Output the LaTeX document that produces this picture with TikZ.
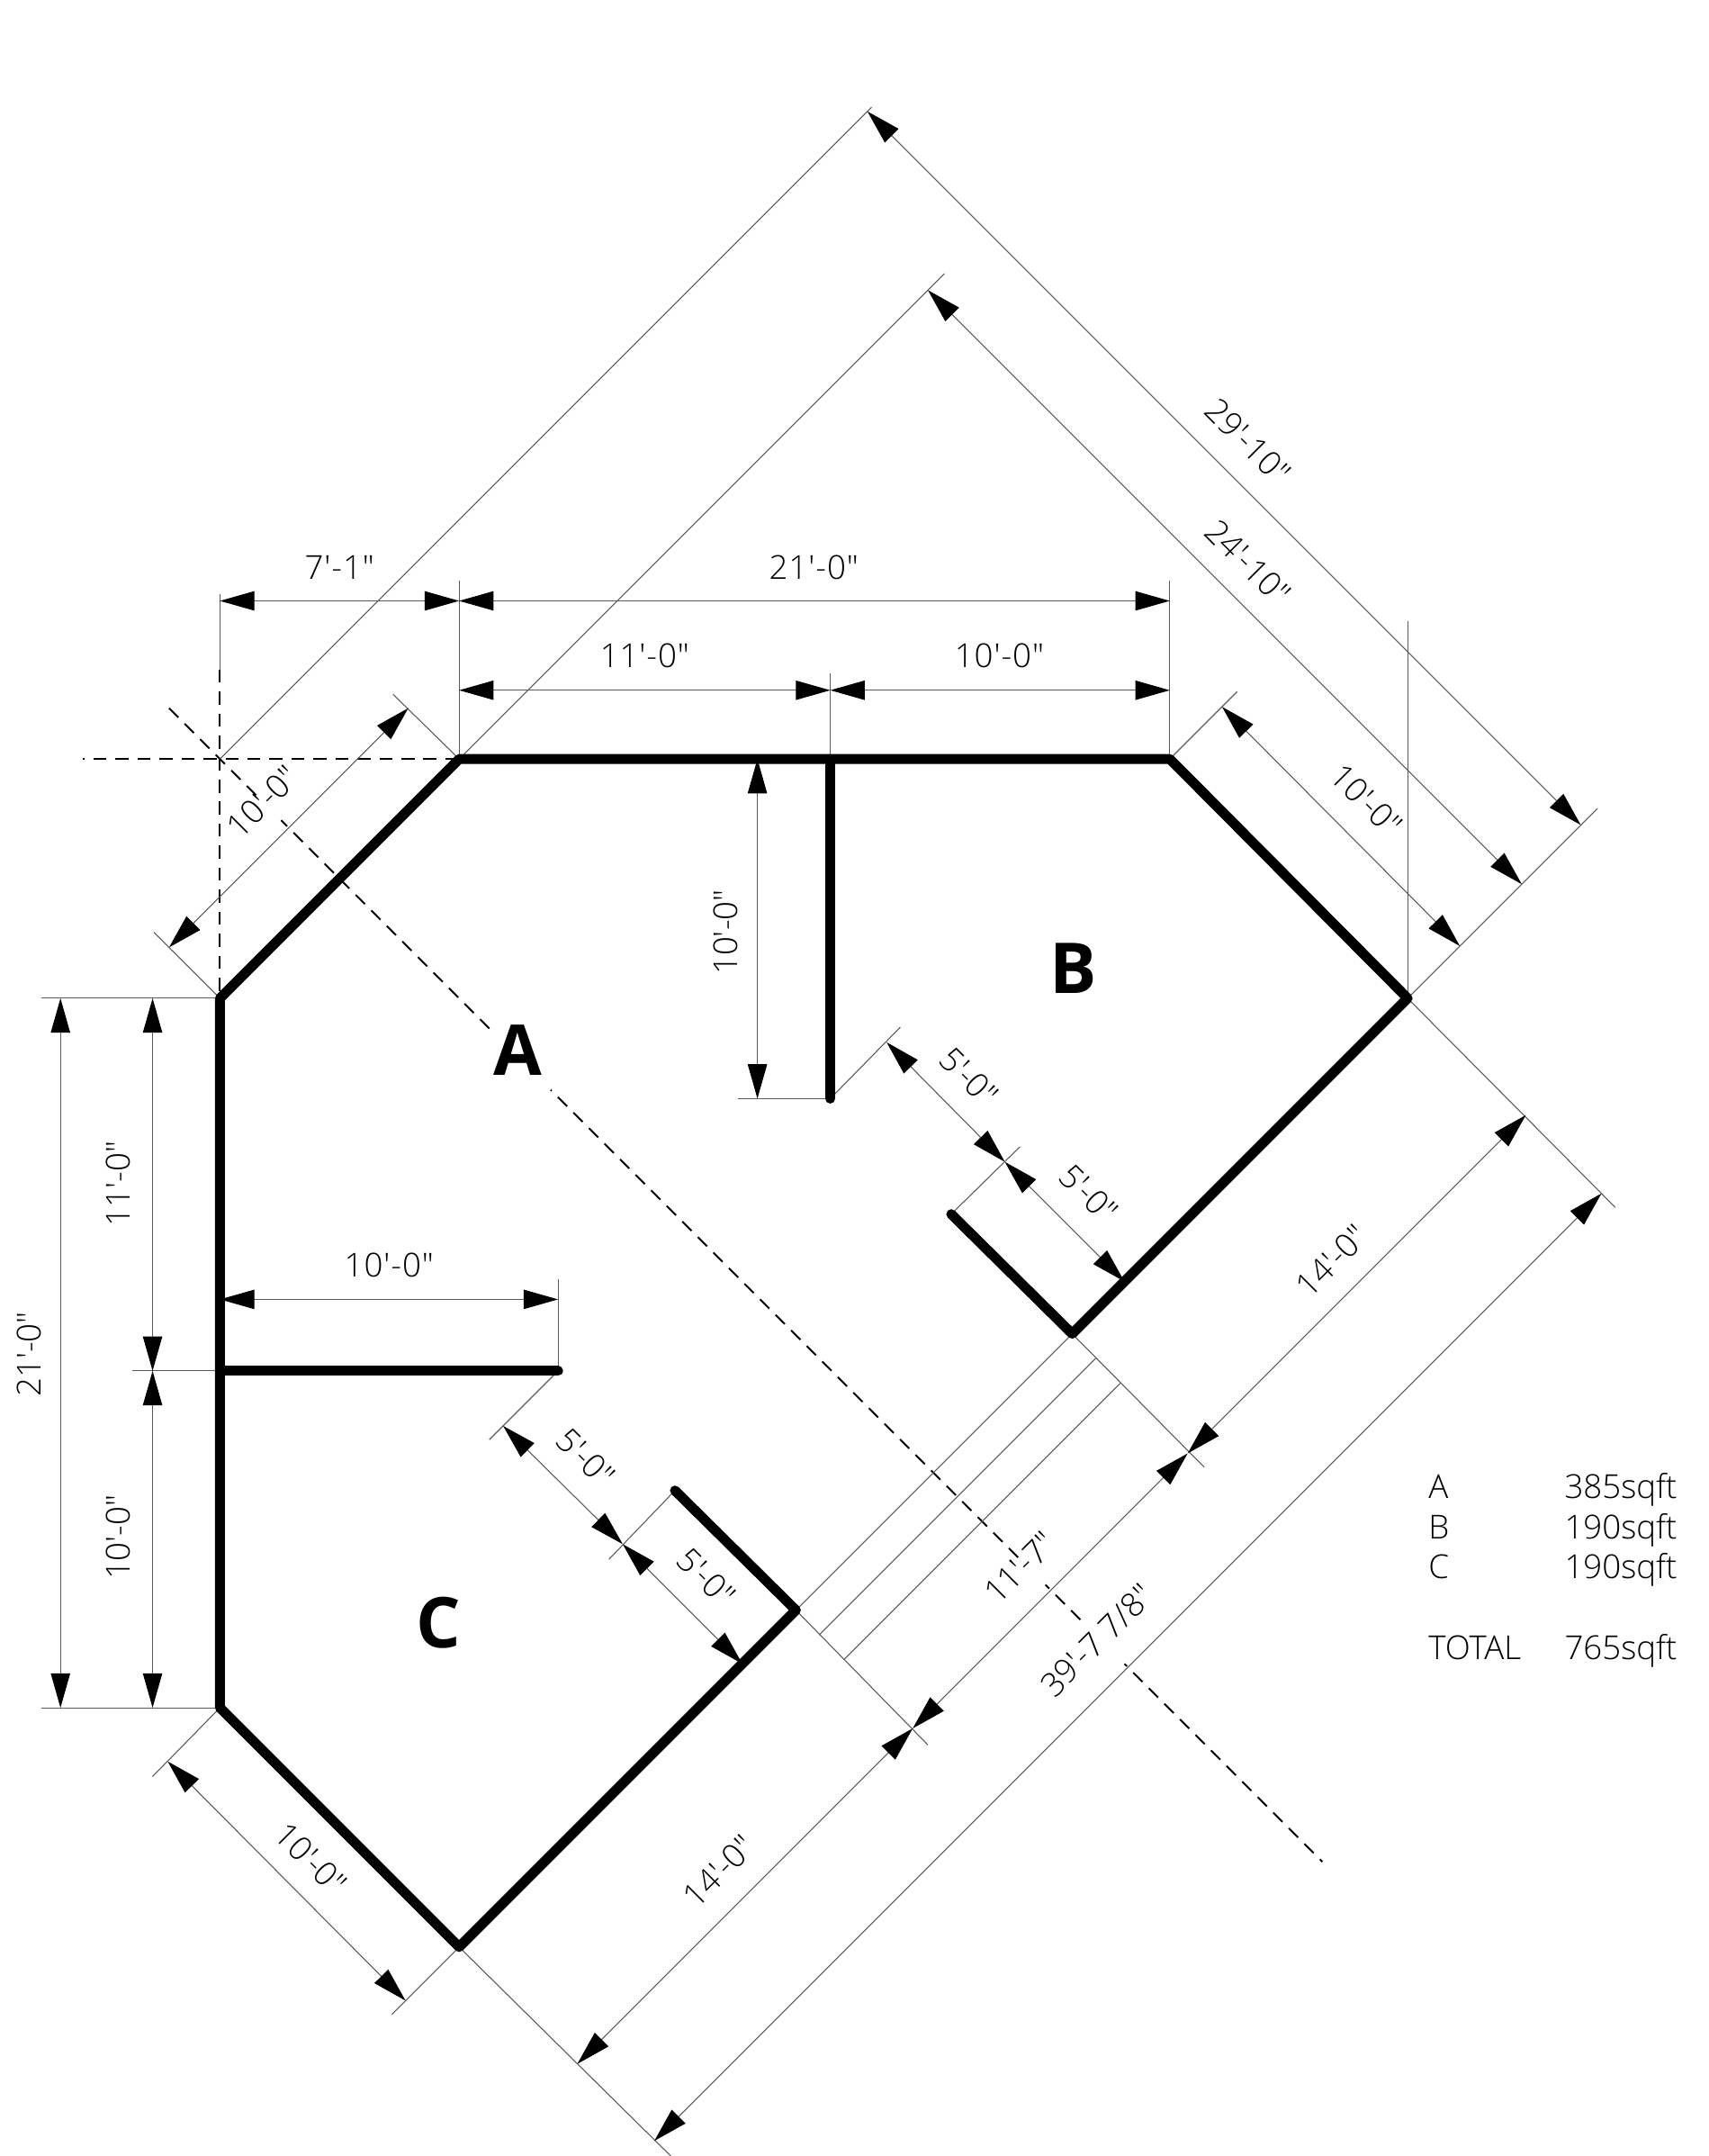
\documentclass[tikz,border=0pt]{standalone}
\usepackage{fontspec}
\newfontfamily\planfont{Open Sans Light}
\newfontfamily\dimfont[LetterSpace=2.5]{Open Sans Light}
\newfontfamily\roomfont{Open Sans}
\usetikzlibrary{arrows.meta}
\tikzset{wall/.style={line width=7.2pt, line cap=round, line join=round}}
\tikzset{thinline/.style={line width=.7pt, black!65}}
\tikzset{dimline/.style={thinline, {Triangle[length=25pt,width=14pt,black]}-{Triangle[length=25pt,width=14pt,black]}}}
\tikzset{axis/.style={line width=1.3pt, dash pattern=on 9.5pt off 6.5pt}}
\tikzset{axisgap/.style={line width=5pt, white}}
\tikzset{flatdim/.style={inner sep=0pt, font=\dimfont\fontsize{24}{24}\selectfont}}
\tikzset{dimtext/.style={inner sep=0pt, font=\planfont\fontsize{24}{24}\selectfont}}
\tikzset{legendtext/.style={dimtext, anchor=base west}}
\tikzset{roomtext/.style={inner sep=0pt, font=\roomfont\bfseries\fontsize{51}{51}\selectfont}}

\begin{document}
\begin{tikzpicture}[x=1pt,y=-1pt]
  \useasboundingbox (0,0) rectangle (1243,1568);
  \foreach \x/\y/\lab in {
    160/726/wa, 334/552/wb, 851/552/wc, 1024/726/wd, 780/970/we,
    692/883/wf, 160/1242/wg, 334/1416/wh, 579/1171/wi, 491/1084/wj,
    604/552/wk, 604/799/wl, 160/997/wm, 406/997/wn, 160/552/wo,
    160/432/ta, 334/422/tb, 851/422/tc, 604/490/td, 1024/452/te, 160/487/tf,
    30/726/la, 30/1242/lb, 96/997/lc, 406/930/ld, 537/799/le,
    634/78/xa, 687/199/xb, 900/503/xc, 286/505/xd, 112/678/xe,
    1162/588/xf, 655/747/xg, 742/834/xh, 356/1047/xi, 443/1134/xj,
    111/1292/xk, 285/1465/xl, 1175/878/xm, 876/1067/xn, 675/1269/xo,
    488/1568/xp, 596/1189/xq, 797/988/xr, 614/1207/xs, 815/1006/xt,
    60/552/ca, 123/515/cb, 962/1354/cc,
    188/581/ga, 204/597/gb, 360/752/gc, 400/793/gd,
    742/1136/ge, 760/1153/gf, 789/1181/gg, 818/1210/gh,
    160/437/da, 334/437/db, 851/437/dc, 334/502/dd, 604/502/de, 851/502/df,
    44/726/dg, 44/1242/dh, 111/726/di, 111/997/dj, 111/1242/dk,
    160/945/dl, 406/945/dm, 551/552/dn, 551/799/dp,
    631/81/ea, 1150/600/eb, 675/211/ec, 1107/643/ed, 889/514/ee, 1062/688/ef,
    297/515/eg, 123/689/eh, 645/758/ei, 731/845/ej, 818/932/ek,
    366/1037/el, 453/1123/em, 540/1210/en, 122/1281/eo, 295/1455/ep,
    1110/811/eq, 864/1057/er, 664/1257/es, 420/1501/et, 1165/868/eu, 476/1557/ev%
  } {
    \coordinate (\lab) at (\x, \y);
  }

  \draw[axis, dash phase=8pt] (ca) -- (wb);
  \draw[axis] (tf) -- (wa);
  \draw[axis] (cb) -- (cc);
  \foreach \u/\v in {ga/gb, gc/gd, ge/gf, gg/gh}{
    \draw[axisgap] (\u) -- (\v);
  }

  \foreach \u/\v in {
    ta/tf, wb/tb, wc/tc, wk/td, wd/te,
    wa/la, wg/lb, wm/lc, wn/ld, wl/le,
    wo/xa, wb/xb, wc/xc, wb/xd, wa/xe, wd/xf,
    wl/xg, wf/xh, wn/xi, wj/xj, wg/xk, wh/xl,
    wd/xm, we/xn, wi/xo, wh/xp, wi/we, xq/xr, xs/xt%
  }{
    \draw[thinline] (\u) -- (\v);
  }

  \foreach \u/\v in {
    da/db, db/dc, dd/de, de/df, dg/dh, di/dj, dj/dk, dl/dm, dn/dp,
    ea/eb, ec/ed, ee/ef, eg/eh, ei/ej, ej/ek, el/em, em/en, eo/ep,
    eq/er, er/es, es/et, eu/ev%
  }{
    \draw[dimline] (\u) -- (\v);
  }

  \draw[wall] (wj) -- (wi) -- (wh) -- (wg) -- (wa) -- (wb) -- (wc) -- (wd) -- (we) -- (wf);
  \draw[wall] (wk) -- (wl);
  \draw[wall] (wm) -- (wn);

  \foreach \x/\y/\lab/\txt in {
    247/413/ta/{7'-1"},
    592/413/tb/{21'-0"},
    469/477/tc/{11'-0"},
    727/477/td/{10'-0"},
    283/920/te/{10'-0"}%
  } {
    \node[flatdim] (t\lab) at (\x, \y) {\txt};
  }

  \foreach \x/\y/\ang/\lab/\txt in {
    21/985/90/la/{21'-0"},
    86/861/90/lb/{11'-0"},
    86/1118/90/lc/{10'-0"},
    528/678/90/ld/{10'-0"},
    191/583/45/ra/{10'-0"},
    969/917/45/rb/{14'-0"},
    742/1140/45/rc/{11'-7"},
    798/1193/45/rd/{39'-7 7/8"},
    523/1361/45/re/{14'-0"},
    908/321/-45/fa/{29'-10"},
    908/409/-45/fb/{24'-10"},
    994/582/-45/fc/{10'-0"},
    705/783/-45/fd/{5'-0"},
    792/868/-45/fe/{5'-0"},
    426/1060/-45/ff/{5'-0"},
    514/1147/-45/fg/{5'-0"},
    226/1352/-45/fh/{10'-0"}%
  } {
    \node[dimtext, rotate=\ang] (t\lab) at (\x, \y) {\txt};
  }

  \foreach \x/\y/\lab/\txt in {
    377/764/roomA/A,
    781/704/roomB/B,
    319/1180/roomC/C%
  } {
    \node[roomtext] (\lab) at (\x, \y) {\txt};
  }

  \foreach \y/\lab/\txt/\area in {
    1090/a/A/385,
    1119/b/B/190,
    1148/c/C/190,
    1207/d/TOTAL/765%
  } {
    \node[legendtext] (name\lab) at (1039, \y) {\txt};
    \node[legendtext] (area\lab) at (1138, \y) {\area sqft};
  }
\end{tikzpicture}
\end{document}
